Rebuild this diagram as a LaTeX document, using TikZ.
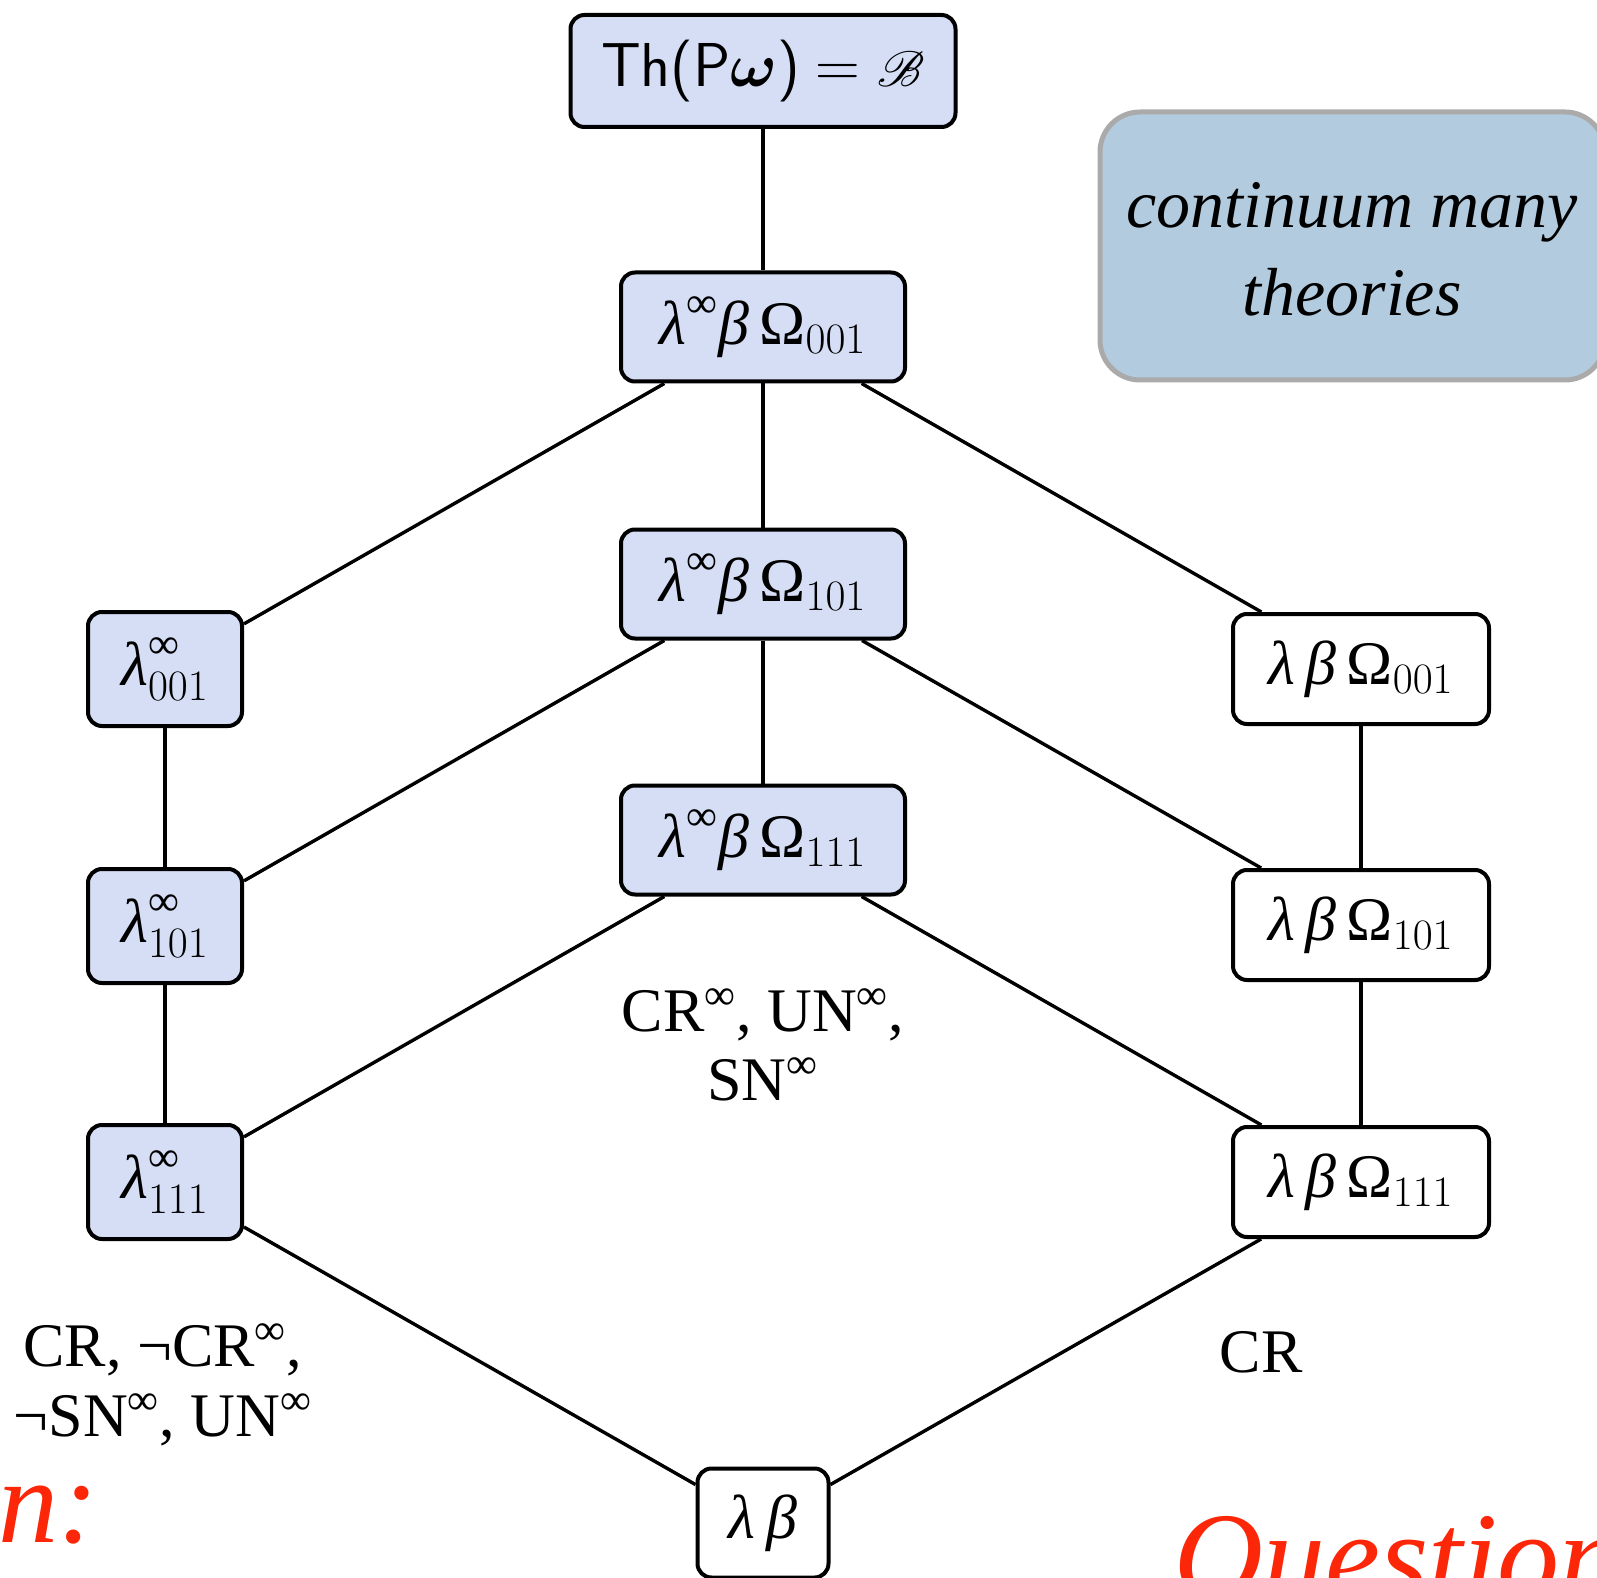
\documentclass[tikz,border=0pt]{standalone}
\usepackage{fix-cm}
\usepackage{amsmath,amssymb}
\usepackage{mathrsfs}
\usepackage{fontspec}
\setmainfont{Liberation Serif}

\definecolor{nodeblue}{RGB}{214,222,246}
\definecolor{noteblue}{RGB}{179,203,223}
\definecolor{notegray}{RGB}{170,170,170}
\definecolor{alertred}{RGB}{252,38,8}

% Times-like letters for the calculi
\newcommand{\lamb}{\text{\itshape λ}}
\newcommand{\bet}{\text{\itshape β}}
\newcommand{\Omg}{\text{Ω}}
\newcommand{\infi}{\text{∞}}

\begin{document}
\begin{tikzpicture}[
        x=0.5pt, y=-0.5pt,
        theory/.style = {draw, rounded corners=7pt, line width=2pt, inner sep=0pt,
                         font=\fontsize{31}{34}\selectfont},
        infbox/.style = {theory, fill=nodeblue, minimum width=142pt, minimum height=54.5pt},
        redbox/.style = {theory, fill=nodeblue, minimum width=77pt, minimum height=57pt},
        finbox/.style = {theory, fill=white, minimum width=128pt, minimum height=55pt},
        prop/.style   = {align=center, font=\fontsize{31}{34.5}\selectfont},
        line width=1.7pt
    ]
        \useasboundingbox (0,0) rectangle (1597,1578);
        % top and the middle column
        \node[theory, fill=nodeblue, minimum width=192.5pt, minimum height=56pt,
              font=\fontsize{31}{34}\selectfont] (top) at (763,71)
            {{\sffamily Th(P}$\boldsymbol{\omega}${\sffamily )} $=\mathscr{B}$};
        \node[infbox] (m001) at (763,327) {$\lamb^{\infi}\bet\,\Omg_{001}$};
        \node[infbox] (m101) at (763,584) {$\lamb^{\infi}\bet\,\Omg_{101}$};
        \node[infbox] (m111) at (763,840) {$\lamb^{\infi}\bet\,\Omg_{111}$};
        % left column
        \node[redbox] (l001) at (165,669) {$\lamb^{\infi}_{001}$};
        \node[redbox] (l101) at (165,926) {$\lamb^{\infi}_{101}$};
        \node[redbox] (l111) at (165,1182) {$\lamb^{\infi}_{111}$};
        % right column
        \node[finbox] (r001) at (1361,669) {$\lamb\,\bet\,\Omg_{001}$};
        \node[finbox] (r101) at (1361,925) {$\lamb\,\bet\,\Omg_{101}$};
        \node[finbox] (r111) at (1361,1182) {$\lamb\,\bet\,\Omg_{111}$};
        \node[theory, fill=white, minimum width=65.5pt, minimum height=54.5pt] (bot) at (763,1523)
            {$\lamb\,\bet$};

        \draw (top) -- (m001) -- (m101) -- (m111);
        \draw (l001) -- (l101) -- (l111);
        \draw (r001) -- (r101) -- (r111);
        \draw (m001) -- (l001);
        \draw (m001) -- (r001);
        \draw (m101) -- (l101);
        \draw (m101) -- (r101);
        \draw (m111) -- (l111);
        \draw (m111) -- (r111);
        \draw (l111) -- (bot) -- (r111);

        % properties of the theories
        \node[prop] (pmid) at (763,1045) {CR$^{\infi}$, UN$^{\infi}$,\\SN$^{\infi}$};
        \node[prop, font=\fontsize{31}{35}\selectfont] (pleft) at (163,1385)
            {CR, ¬CR$^{\infi}$,\\¬SN$^{\infi}$, UN$^{\infi}$};
        \node[prop] (pright) at (1261,1352) {CR};

        \draw[draw=notegray, fill=noteblue, line width=2.5pt, rounded corners=20pt]
            (1100,112) rectangle (1605,380);
        \node[align=center, font=\fontsize{34}{44}\selectfont\itshape] (note) at (1352,249)
            {continuum many\\theories};

        \node[anchor=base east, text=alertred, inner sep=0pt,
              font=\fontsize{60}{70}\selectfont\itshape] (tailn) at (100,1542) {n:};
        \node[anchor=base west, text=alertred, inner sep=0pt,
              font=\fontsize{62}{70}\selectfont\itshape] (quest) at (1172,1598) {Question};
    \end{tikzpicture}
\end{document}
